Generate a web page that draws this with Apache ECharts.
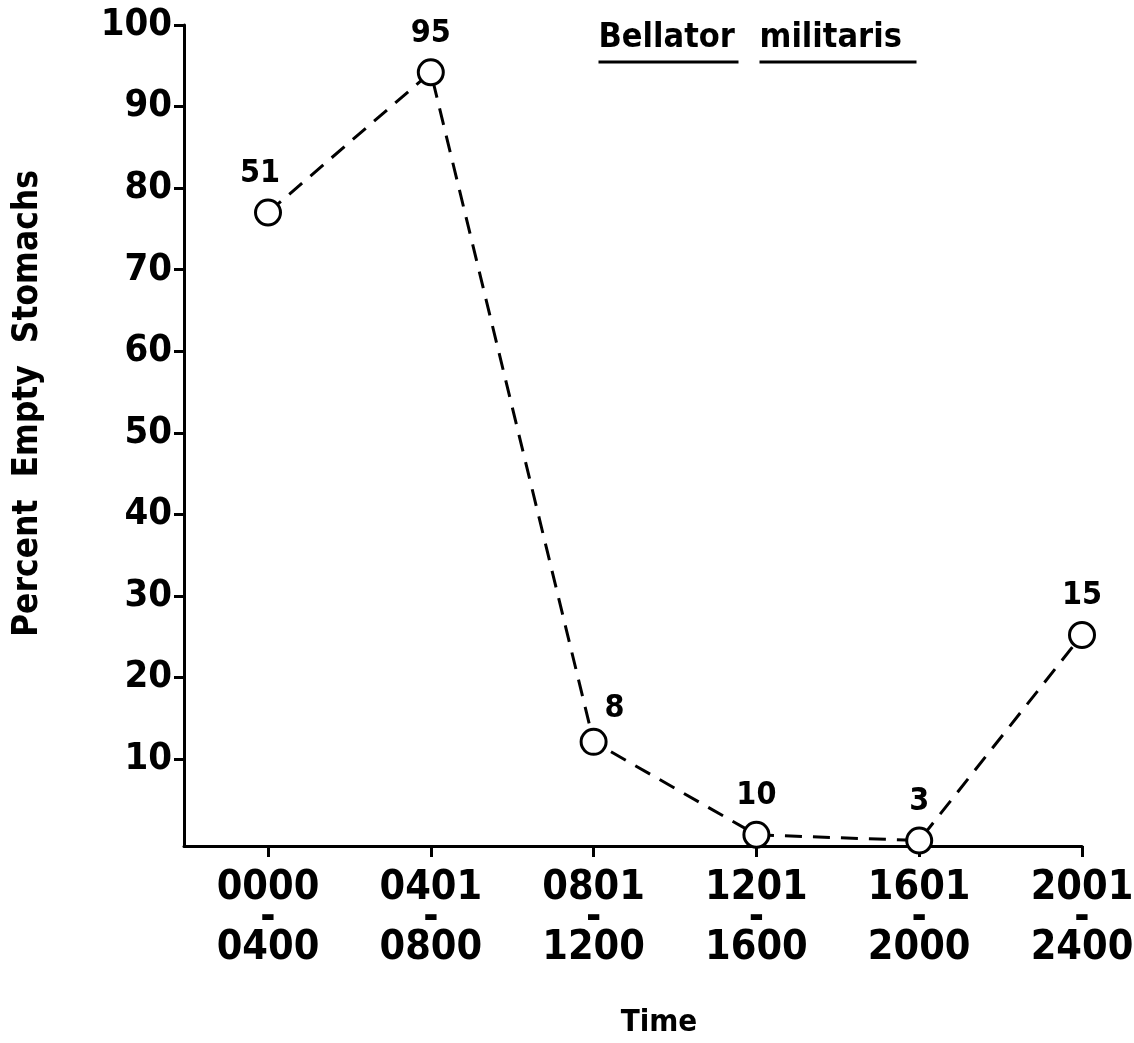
<!DOCTYPE html>
<html>
<head>
<meta charset="utf-8">
<title>Bellator militaris — Percent Empty Stomachs</title>
<script src="https://cdn.jsdelivr.net/npm/echarts@6/dist/echarts.min.js"></script>
<style>
  html, body { margin: 0; padding: 0; background: #fff; }
  #chart { width: 1134px; height: 1043px; }
</style>
</head>
<body>
<div id="chart"></div>
<script>
// Four-hour sampling periods
const periodStart = ['0000', '0401', '0801', '1201', '1601', '2001'];
const periodEnd   = ['0400', '0800', '1200', '1600', '2000', '2400'];
// Percent of stomachs found empty in each period
const percentEmpty = [77, 94.2, 12.1, 0.7, 0, 25.2];
// Number of fish examined in each period
const sampleSizes = [51, 95, 8, 10, 3, 15];
// Y tick labels
const yTicks = [10, 20, 30, 40, 50, 60, 70, 80, 90, 100];

const FONT = "'DejaVu Sans Condensed', 'DejaVu Sans', sans-serif";
const INK = '#000';

// small nudges for labels that sit off-centre
const labelNudge = { 0: [-8, 0], 2: [21, 6] };

const chart = echarts.init(document.getElementById('chart'), null, { renderer: 'canvas' });

const xTicks = periodStart.map((_, i) => i);

const seriesData = percentEmpty.map((v, i) => {
  const item = { value: [i, v] };
  if (labelNudge[i]) item.label = { offset: labelNudge[i] };
  return item;
});

chart.setOption({
  backgroundColor: '#fff',
  animation: false,
  grid: { left: 184, right: 52, top: 25, bottom: 197, containLabel: false, outerBoundsMode: 'none' },
  xAxis: {
    type: 'value',
    min: -0.516,
    max: 5,
    name: 'Time',
    nameLocation: 'middle',
    nameGap: 161,
    nameTextStyle: { fontFamily: FONT, fontWeight: 'bold', fontSize: 31, color: INK, padding: [0, 0, 0, 52] },
    axisLine: { show: true, onZero: false, lineStyle: { color: INK, width: 3 } },
    axisTick: { show: true, customValues: xTicks, length: 11, lineStyle: { color: INK, width: 3 } },
    axisLabel: {
      show: true,
      customValues: xTicks,
      margin: 27,
      fontFamily: FONT,
      fontWeight: 'bold',
      fontSize: 41,
      lineHeight: 30,
      color: INK,
      formatter: v => periodStart[v] + '\n-\n' + periodEnd[v]
    },
    splitLine: { show: false }
  },
  yAxis: {
    type: 'value',
    min: -0.67,
    max: 100,
    name: 'Percent  Empty  Stomachs',
    nameLocation: 'middle',
    nameGap: 139,
    nameRotate: 90,
    nameTextStyle: { fontFamily: FONT, fontWeight: 'bold', fontSize: 35, color: INK, padding: [0, 0, 0, 64] },
    axisLine: { show: true, onZero: false, lineStyle: { color: INK, width: 3 } },
    axisTick: { show: true, customValues: yTicks, length: 10, lineStyle: { color: INK, width: 3 } },
    axisLabel: {
      show: true,
      customValues: yTicks,
      margin: 12,
      fontFamily: FONT,
      fontWeight: 'bold',
      fontSize: 38,
      color: INK
    },
    splitLine: { show: false }
  },
  graphic: [
    // species name, each word underlined
    {
      type: 'group', left: 596, top: 21,
      children: [
        { type: 'text', x: 0, y: 0, style: { text: 'Bellator', font: 'bold 34px ' + FONT, fill: INK } },
        { type: 'line', shape: { x1: 0, y1: 41, x2: 140, y2: 41 }, style: { stroke: INK, lineWidth: 3 } }
      ]
    },
    {
      type: 'group', left: 757, top: 21,
      children: [
        { type: 'text', x: 0, y: 0, style: { text: 'militaris', font: 'bold 34px ' + FONT, fill: INK } },
        { type: 'line', shape: { x1: 0, y1: 41, x2: 157, y2: 41 }, style: { stroke: INK, lineWidth: 3 } }
      ]
    }
  ],
  series: [{
    type: 'line',
    data: seriesData,
    symbol: 'circle',
    symbolSize: 25,
    itemStyle: { color: '#fff', borderColor: INK, borderWidth: 3 },
    lineStyle: { color: INK, width: 3, type: [17, 11] },
    label: {
      show: true,
      position: 'top',
      distance: 9,
      fontFamily: FONT,
      fontWeight: 'bold',
      fontSize: 32,
      color: INK,
      formatter: p => String(sampleSizes[p.dataIndex])
    },
    emphasis: { disabled: true },
    z: 3
  }]
});
</script>
</body>
</html>
